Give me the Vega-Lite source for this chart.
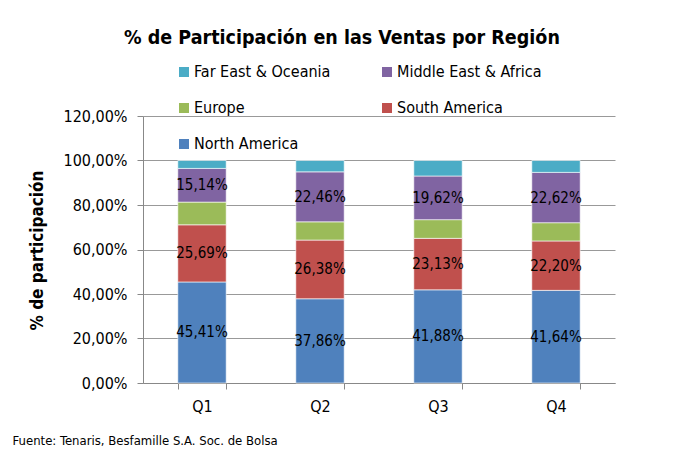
{
  "$schema": "https://vega.github.io/schema/vega-lite/v6.json",
  "width": 472,
  "height": 267,
  "autosize": {"type": "none"},
  "padding": {"left": 143, "top": 116, "right": 60, "bottom": 68},
  "background": "white",
  "config": {
    "locale": {"number": {"decimal": ",", "thousands": ".", "grouping": [3], "currency": ["", " €"]}},
    "view": {"stroke": null},
    "font": "DejaVu Sans Condensed, sans-serif"
  },
  "title": {
    "text": "% de Participación en las Ventas por Región",
    "fontSize": 19.5,
    "fontWeight": "bold",
    "font": "DejaVu Sans Condensed, sans-serif",
    "anchor": "middle",
    "frame": "group",
    "offset": 16,
    "dx": -37,
    "color": "#000000"
  },
  "data": {
    "values": [
      {"q": "Q1", "region": "North America", "rank": 1, "v": 0.4541},
      {"q": "Q1", "region": "South America", "rank": 2, "v": 0.2569},
      {"q": "Q1", "region": "Europe", "rank": 3, "v": 0.102},
      {"q": "Q1", "region": "Middle East & Africa", "rank": 4, "v": 0.1514},
      {"q": "Q1", "region": "Far East & Oceania", "rank": 5, "v": 0.0356},
      {"q": "Q2", "region": "North America", "rank": 1, "v": 0.3786},
      {"q": "Q2", "region": "South America", "rank": 2, "v": 0.2638},
      {"q": "Q2", "region": "Europe", "rank": 3, "v": 0.082},
      {"q": "Q2", "region": "Middle East & Africa", "rank": 4, "v": 0.2246},
      {"q": "Q2", "region": "Far East & Oceania", "rank": 5, "v": 0.051},
      {"q": "Q3", "region": "North America", "rank": 1, "v": 0.4188},
      {"q": "Q3", "region": "South America", "rank": 2, "v": 0.2313},
      {"q": "Q3", "region": "Europe", "rank": 3, "v": 0.084},
      {"q": "Q3", "region": "Middle East & Africa", "rank": 4, "v": 0.1962},
      {"q": "Q3", "region": "Far East & Oceania", "rank": 5, "v": 0.0697},
      {"q": "Q4", "region": "North America", "rank": 1, "v": 0.4164},
      {"q": "Q4", "region": "South America", "rank": 2, "v": 0.222},
      {"q": "Q4", "region": "Europe", "rank": 3, "v": 0.082},
      {"q": "Q4", "region": "Middle East & Africa", "rank": 4, "v": 0.2262},
      {"q": "Q4", "region": "Far East & Oceania", "rank": 5, "v": 0.0534}
    ]
  },
  "transform": [
    {"stack": "v", "groupby": ["q"], "sort": [{"field": "rank", "order": "ascending"}], "as": ["y0", "y1"]},
    {"calculate": "(datum.y0 + datum.y1) / 2", "as": "ymid"}
  ],
  "layer": [
    {
      "mark": {"type": "bar", "stroke": "#ffffff", "strokeWidth": 0.6},
      "encoding": {
        "x": {
          "field": "q", "type": "nominal",
          "scale": {"paddingInner": 0.59, "paddingOuter": 0.295},
          "axis": {
            "labelAngle": 0, "labelFontSize": 16, "labelColor": "#000000", "labelPadding": 9,
            "domainColor": "#888888", "tickColor": "#888888", "tickSize": 6, "tickBand": "extent",
            "title": "Fuente: Tenaris, Besfamille S.A. Soc. de Bolsa",
            "titleX": -131, "titleY": 57, "titleAlign": "left", "titleAnchor": null, "titleBaseline": "middle",
            "titleFontSize": 13, "titleFontWeight": "normal", "titleColor": "#000000"
          }
        },
        "y": {
          "field": "y0", "type": "quantitative",
          "scale": {"domain": [0, 1.2]},
          "axis": {
            "format": ".2%", "values": [0, 0.2, 0.4, 0.6, 0.8, 1.0, 1.2],
            "labelFontSize": 16, "labelColor": "#000000", "labelPadding": 10,
            "domainColor": "#888888", "tickColor": "#888888", "tickSize": 6,
            "gridColor": "#999999", "grid": true,
            "title": "% de participación", "titleFontSize": 17, "titleFontWeight": "bold",
            "titleColor": "#000000", "titleX": -106, "titleY": 134, "titleBaseline": "middle"
          }
        },
        "y2": {"field": "y1"},
        "color": {
          "field": "region", "type": "nominal",
          "scale": {
            "domain": ["Far East & Oceania", "Middle East & Africa", "Europe", "South America", "North America"],
            "range": ["#4BACC6", "#8064A2", "#9BBB59", "#C0504D", "#4F81BD"]
          },
          "legend": {
            "orient": "none", "legendX": 33, "legendY": -52, "columns": 2, "direction": "horizontal", "title": null,
            "symbolType": "square", "symbolSize": 100, "symbolStrokeWidth": 0,
            "labelFontSize": 16, "labelColor": "#000000", "labelOffset": 2,
            "rowPadding": 20, "columnPadding": 48
          }
        }
      }
    },
    {
      "transform": [{"filter": {"field": "region", "oneOf": ["North America", "South America", "Middle East & Africa"]}}],
      "mark": {"type": "text", "fontSize": 15, "color": "#000000"},
      "encoding": {
        "x": {"field": "q", "type": "nominal"},
        "y": {"field": "ymid", "type": "quantitative"},
        "text": {"field": "v", "type": "quantitative", "format": ".2%"}
      }
    }
  ]
}
